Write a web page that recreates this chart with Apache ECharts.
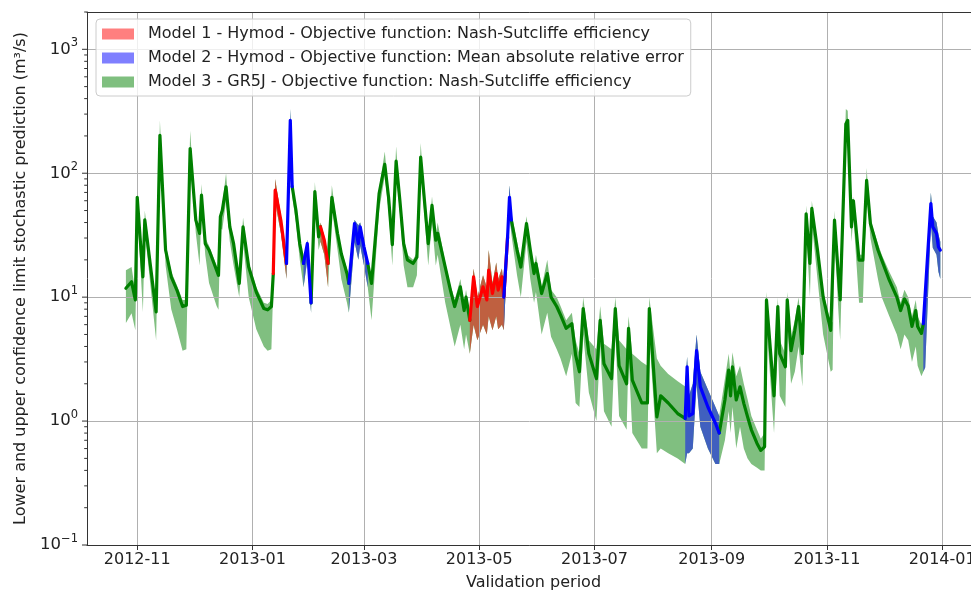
<!DOCTYPE html>
<html><head><meta charset="utf-8">
<script src="https://cdn.jsdelivr.net/npm/echarts@6/dist/echarts.min.js"></script>
<style>html,body{margin:0;padding:0;background:#fff}#c{width:971px;height:592px}</style>
</head><body><div id="c"></div>
<script>
const dates = [
'2012-10-26','2012-10-29','2012-10-31','2012-11-01','2012-11-04','2012-11-05','2012-11-11','2012-11-13','2012-11-16','2012-11-19',
'2012-11-22','2012-11-25','2012-11-27','2012-11-29','2012-12-02','2012-12-04','2012-12-05','2012-12-07','2012-12-09','2012-12-13',
'2012-12-14','2012-12-15','2012-12-16','2012-12-18','2012-12-20','2012-12-22','2012-12-25','2012-12-27','2012-12-30','2013-01-03',
'2013-01-07','2013-01-09','2013-01-11','2013-01-12','2013-01-13','2013-01-16','2013-01-19','2013-01-21','2013-01-22','2013-01-24',
'2013-01-26','2013-01-28','2013-01-30','2013-02-01','2013-02-03','2013-02-05','2013-02-06','2013-02-08','2013-02-10','2013-02-12',
'2013-02-15','2013-02-17','2013-02-20','2013-02-21','2013-02-24','2013-02-26','2013-02-27','2013-03-01','2013-03-03','2013-03-05',
'2013-03-09','2013-03-12','2013-03-14','2013-03-16','2013-03-18','2013-03-20','2013-03-22','2013-03-24','2013-03-27','2013-03-29',
'2013-03-31','2013-04-02','2013-04-04','2013-04-06','2013-04-08','2013-04-09','2013-04-13','2013-04-16','2013-04-18','2013-04-21',
'2013-04-23','2013-04-24','2013-04-26','2013-04-28','2013-04-30','2013-05-03','2013-05-05','2013-05-06','2013-05-08','2013-05-10',
'2013-05-11','2013-05-13','2013-05-14','2013-05-16','2013-05-17','2013-05-18','2013-05-21','2013-05-23','2013-05-26','2013-05-28',
'2013-05-30','2013-05-31','2013-06-03','2013-06-06','2013-06-08','2013-06-11','2013-06-13','2013-06-16','2013-06-19','2013-06-21',
'2013-06-23','2013-06-25','2013-06-28','2013-07-02','2013-07-04','2013-07-06','2013-07-10','2013-07-12','2013-07-14','2013-07-18',
'2013-07-19','2013-07-21','2013-07-26','2013-07-29','2013-07-30','2013-08-03','2013-08-05','2013-08-09','2013-08-14','2013-08-18',
'2013-08-19','2013-08-20','2013-08-22','2013-08-24','2013-08-26','2013-08-30','2013-09-03','2013-09-05','2013-09-08','2013-09-10',
'2013-09-11','2013-09-12','2013-09-14','2013-09-16','2013-09-18','2013-09-20','2013-09-22','2013-09-25','2013-09-27','2013-09-29',
'2013-09-30','2013-10-04','2013-10-06','2013-10-07','2013-10-10','2013-10-11','2013-10-13','2013-10-15','2013-10-17','2013-10-19',
'2013-10-21','2013-10-23','2013-10-24','2013-10-27','2013-10-30','2013-11-03','2013-11-04','2013-11-05','2013-11-07','2013-11-08',
'2013-11-11','2013-11-12','2013-11-14','2013-11-15','2013-11-18','2013-11-20','2013-11-22','2013-11-24','2013-11-28','2013-11-30',
'2013-12-04','2013-12-08','2013-12-10','2013-12-12','2013-12-14','2013-12-16','2013-12-18','2013-12-19','2013-12-21','2013-12-22',
'2013-12-23','2013-12-26','2013-12-27','2013-12-29','2013-12-30','2013-12-31'
];
const flow = [
11.8,13.3,9.5,64,14.6,42,7.6,202,24,14.6,
11.4,8.4,8.6,158,41.8,32.7,66.5,27,24,16.5,
15,44.5,50,77.6,36.9,27,12.9,36.9,17.5,11,
8.1,7.9,8.4,15.5,73,41.8,18.7,267,78,50,
27,18.7,27,9,71,30.7,36.9,28.8,18.7,64,
32.6,22.4,15.5,12.9,39.3,27,36.9,25.4,18.7,12.9,
68.5,118,64,26.5,125,60,27,20,18.7,21,
135,60,27,55,28.8,32.7,17.5,11,8.4,12.1,
7.8,10,6.5,14.6,8.4,12.1,9.5,16.5,10.7,15.5,
11.4,14.6,10,30.7,64,41.8,24,17.5,39.3,24,
15.5,18.7,10.7,15.5,10,8.4,7.2,5.6,6.1,3.4,
2.5,8.1,3.5,2.2,6.5,2.9,2.2,8.1,2.8,2.0,
5.6,2.14,1.4,1.4,8.1,1.08,1.6,1.4,1.15,1.05,
2.74,1.1,1.15,3.7,1.89,1.3,0.96,0.8,1.48,2.58,
1.6,2.74,1.48,1.89,1.39,1.08,0.85,0.66,0.58,0.62,
9.5,1.6,8.4,3.5,2.74,9.5,3.7,5.4,8.4,3.5,
47,18.7,52,24,10,5.4,5.5,41.8,15.5,9.5,
250,267,36.9,60,19.9,19.9,87.6,39.3,24,19.9,
13.7,10,7.8,9.7,8.5,5.8,7.8,5.8,5.1,6.1,
6.1,57,36.9,32.7,25.4,24
];
const lower = [
6.2,7.4,5.4,52,7.6,34,4.5,180,18,8,
5.5,3.7,3.8,140,33,18,55,22,13,8.5,
7.9,36,35,60,28,18,10,28,10,5.5,
4,3.7,3.8,12,58,33,14,230,65,40,
20,12,20,7.5,58,24,28,22,12,52,
24,14,9,7.5,28,20,26,18,12,6.5,
50,95,50,18,100,48,18,12,12,15,
115,45,18,40,18,22,9,5.5,4,6,
3.8,5,3.5,6,4.5,6,5,7,5.4,7,
5.5,6,5.4,24,50,32,15,10,28,14,
9,11,5,7.5,4.8,3.8,3.2,2.3,3.5,1.4,
1.3,5,1.7,1.0,4,1.2,0.9,5,1.1,0.85,
3.5,0.8,0.6,0.6,5,0.55,0.6,0.55,0.5,0.45,
0.55,0.55,0.6,2,0.9,0.6,0.45,0.45,0.7,1.2,
0.8,1.3,0.6,0.9,0.6,0.5,0.45,0.42,0.4,0.4,
6,0.8,4,1.6,1.3,6,2,2.5,4,1.9,
35,10,40,14,5,2.5,2.6,30,8,4.5,
200,220,28,45,9,9,70,30,14,10,
7,5,3.8,5,4.5,3,4,2.8,2.3,2.5,
2.7,40,25,22,16,14
];
const upper = [
16.5,17.5,11,75,16,50,8.5,268,27,16,
12.5,9.5,9.5,220,45,35,82,30,26,18,
16,48,55,100,40,30,14,44,19,12,
9,8.8,9.5,17,90,46,20,330,85,53,
29,20,29,10,85,33,40,31,20,80,
35,24,17,14,42,38,40,28,20,14,
75,150,70,30,165,65,30,22,20,23,
175,65,30,65,31,40,19,12,9.5,14,
9,11.5,7.5,17,10,15,12,24,13,19,
14,17,12,40,80,48,28,20,45,26,
17,22,12,20,11.5,10,8.5,6.5,7.5,4.5,
3.5,10,4.5,3.8,8.5,4.2,3.8,10,4.5,3.8,
7,3.5,3.0,2.8,10,3.2,2.8,2.4,2.1,1.9,
3.3,1.6,2,5,2.5,1.8,1.3,1.1,2.2,3.5,
2.4,3.6,2.3,2.8,2,1.5,1.1,0.85,0.72,0.8,
11,2,10,4.5,3.5,11,4.8,6.5,10,4.5,
55,21,60,26,11,6.2,6.3,50,17,10.5,
330,320,40,65,22,22,110,42,27,22,
16,12,9,11.5,10,7,9.5,7,6,7,
8,70,45,40,32,28
];
// periods where Model 1 (red) and Model 2 (blue) are shown
const model1Periods = [['2013-01-13','2013-01-16'],['2013-02-08','2013-02-08'],['2013-04-28','2013-05-14']];
const model2Periods = [['2013-01-21','2013-01-21'],['2013-01-30','2013-01-30'],['2013-02-24','2013-03-01'],['2013-05-16','2013-05-17'],['2013-08-19','2013-08-20'],['2013-08-24','2013-09-03'],['2013-12-23','2013-12-31']];

const seriesNames = [
  'Model 1 - Hymod - Objective function: Nash-Sutcliffe efficiency',
  'Model 2 - Hymod - Objective function: Mean absolute relative error',
  'Model 3 - GR5J - Objective function: Nash-Sutcliffe efficiency'
];
const xTickDates = ['2012-11-01','2013-01-01','2013-03-01','2013-05-01','2013-07-01','2013-09-01','2013-11-01','2014-01-01'];
const xTickLabels = ['2012-11','2013-01','2013-03','2013-05','2013-07','2013-09','2013-11','2014-01'];
const yMajorTicks = [0.1, 1, 10, 100, 1000];
const yTickExponents = ['\u22121', '0', '1', '2', '3'];
const yMinorTicks = [0.2,0.3,0.4,0.5,0.6,0.7,0.8,0.9,2,3,4,5,6,7,8,9,20,30,40,50,60,70,80,90,200,300,400,500,600,700,800,900,2000];
const xRange = ['2012-10-05T10:00', '2014-01-21T00:00'];
const yRange = [0.1, 2000];

function toTs(s) {
  const [d, t] = s.split('T');
  const [y, m, dd] = d.split('-').map(Number);
  let h = 0, mi = 0;
  if (t) { [h, mi] = t.split(':').map(Number); }
  return Date.UTC(y, m - 1, dd, h, mi);
}
const ts = dates.map(toTs);
const xMin = toTs(xRange[0]), xMax = toTs(xRange[1]);
const xTickTs = xTickDates.map(toTs);

function inPeriods(t, periods) { return periods.some(p => t >= toTs(p[0]) && t <= toTs(p[1])); }
const own = ts.map(t => inPeriods(t, model1Periods) ? 1 : (inPeriods(t, model2Periods) ? 2 : 3));
function withNeighbours(k) { return own.map((o, i) => o === k || own[i - 1] === k || own[i + 1] === k); }
const mask1 = withNeighbours(1), mask2 = withNeighbours(2);
const mask3 = own.map(o => o === 3);
const maskAll = own.map(() => true);

const FONT = 'DejaVu Sans';
// legend patches: 50% alpha over white; bands: same colours composited (red/blue over the green band)
const legendColors = ['rgba(255,0,0,0.5)', 'rgba(0,0,255,0.5)', 'rgba(0,128,0,0.5)'];
const bandColors = ['#bf6040', '#4060bf', '#80bf80'];
const lineColors = ['#ff0000', '#0000ff', '#008000'];

function runsOf(mask) {
  const runs = []; let s = -1;
  mask.forEach((m, i) => {
    if (m && s < 0) s = i;
    if (!m && s >= 0) { runs.push([s, i - 1]); s = -1; }
  });
  if (s >= 0) runs.push([s, mask.length - 1]);
  return runs;
}
function band(name, mask, color) {
  const runEnd = {};
  runsOf(mask).forEach(r => { runEnd[r[0]] = r[1]; });
  const idx = [];
  mask.forEach((m, i) => { if (m) idx.push(i); });
  return {
    type: 'custom', name: name, coordinateSystem: 'cartesian2d', silent: true, z: 1, color: color,
    itemStyle: { color: color },
    data: idx.map(i => [ts[i], lower[i], upper[i], i]),
    renderItem: function (params, api) {
      const i0 = api.value(3);
      if (!(i0 in runEnd)) return null;
      const i1 = runEnd[i0];
      const top = [], bot = [];
      for (let j = i0; j <= i1; j++) {
        top.push(api.coord([ts[j], upper[j]]));
        bot.push(api.coord([ts[j], lower[j]]));
      }
      return { type: 'polygon', shape: { points: top.concat(bot.reverse()) },
        style: { fill: color, stroke: null, lineWidth: 0, opacity: 1 } };
    }
  };
}
function line(mask, color) {
  return { type: 'line', symbol: 'none', silent: true, z: 3, color: color, connectNulls: false,
    data: ts.map((t, i) => [t, mask[i] ? flow[i] : '-']),
    lineStyle: { color: color, width: 3.2, join: 'round', cap: 'round' } };
}

const series = [
  band(seriesNames[2], maskAll, bandColors[2]),
  band(seriesNames[0], mask1, bandColors[0]),
  band(seriesNames[1], mask2, bandColors[1]),
  line(mask3, lineColors[2]), line(mask1, lineColors[0]), line(mask2, lineColors[1]),
  {
    type: 'custom', coordinateSystem: 'cartesian2d', silent: true, clip: false, z: 10,
    data: yMajorTicks.map(v => [xMin, v, 5]).concat(yMinorTicks.map(v => [xMin, v, 2.8])),
    renderItem: function (params, api) {
      const p = api.coord([api.value(0), api.value(1)]);
      const len = api.value(2);
      return { type: 'line', shape: { x1: p[0] - len, y1: p[1], x2: p[0], y2: p[1] },
        style: { stroke: '#333', lineWidth: 1 } };
    }
  }
];

const chart = echarts.init(document.getElementById('c'), null, { renderer: 'canvas', width: 971, height: 592 });
chart.setOption({
  animation: false,
  backgroundColor: '#fff',
  grid: { left: 87, top: 12, width: 893, height: 533, containLabel: false, outerBoundsMode: 'none' },
  legend: {
    orient: 'vertical', left: 96, top: 19, padding: [7, 7, 6, 6], itemGap: 8,
    itemWidth: 32, itemHeight: 11, icon: 'rect', selectedMode: false, z: 10,
    backgroundColor: 'rgba(255,255,255,0.8)', borderColor: '#cccccc', borderWidth: 1, borderRadius: 4,
    itemStyle: { borderWidth: 0 },
    textStyle: { fontFamily: FONT, fontSize: 16, color: '#222', lineHeight: 16, padding: [0, 0, 0, 9] },
    data: [
      { name: seriesNames[0], itemStyle: { color: legendColors[0] } },
      { name: seriesNames[1], itemStyle: { color: legendColors[1] } },
      { name: seriesNames[2], itemStyle: { color: legendColors[2] } }
    ]
  },
  xAxis: [{
    type: 'value', min: xMin, max: xMax, position: 'bottom', z: 2, scale: true,
    axisLine: { show: true, onZero: false, lineStyle: { color: '#333', width: 1 } },
    axisTick: { show: true, length: 5, customValues: xTickTs, lineStyle: { color: '#333', width: 1 } },
    axisLabel: { customValues: xTickTs, margin: 7, fontFamily: FONT, fontSize: 16, color: '#222',
      formatter: v => { const i = xTickTs.indexOf(v); return i >= 0 ? xTickLabels[i] : ''; } },
    splitLine: { show: true, lineStyle: { color: '#b0b0b0', width: 1 } },
    name: 'Validation period', nameLocation: 'middle', nameGap: 30,
    nameTextStyle: { fontFamily: FONT, fontSize: 16, color: '#222' }
  }, {
    type: 'value', min: xMin, max: xMax, position: 'top', z: 4, scale: true,
    axisLine: { show: true, onZero: false, lineStyle: { color: '#333', width: 1 } },
    axisTick: { show: false }, axisLabel: { show: false }, splitLine: { show: false }
  }],
  yAxis: {
    type: 'log', logBase: 10, min: yRange[0], max: yRange[1], z: 2,
    axisLine: { show: true, onZero: false, lineStyle: { color: '#333', width: 1 } },
    axisTick: { show: false },
    minorTick: { show: false },
    axisLabel: {
      margin: 9, fontFamily: FONT, color: '#222',
      formatter: v => {
        const i = yMajorTicks.findIndex(m => Math.abs(Math.log10(v) - Math.log10(m)) < 1e-6);
        return i >= 0 ? '{b|10}{e|' + yTickExponents[i] + '}' : '';
      },
      rich: {
        b: { fontFamily: FONT, fontSize: 16.5, color: '#222', lineHeight: 24 },
        e: { fontFamily: FONT, fontSize: 11.5, color: '#222', lineHeight: 11, verticalAlign: 'top' }
      }
    },
    splitLine: { show: true, lineStyle: { color: '#b0b0b0', width: 1 } },
    name: 'Lower and upper confidence limit stochastic prediction (m\u00b3/s)',
    nameLocation: 'middle', nameGap: 58,
    nameTextStyle: { fontFamily: FONT, fontSize: 16, color: '#222' }
  },
  series: series
});
</script>
</body></html>
